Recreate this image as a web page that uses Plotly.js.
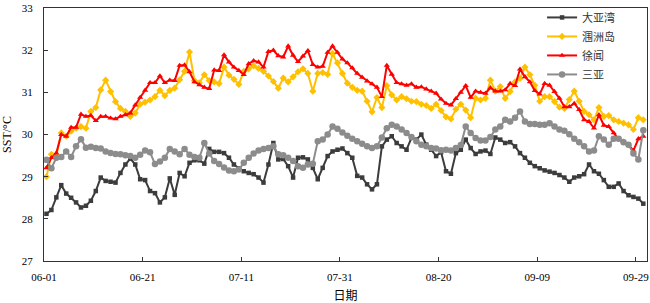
<!DOCTYPE html>
<html>
<head>
<meta charset="utf-8">
<script src="https://cdn.plot.ly/plotly-3.0.1.min.js"></script>
<style>
html,body{margin:0;padding:0;background:#fff;}
#chart{width:650px;height:303px;}
</style>
</head>
<body>
<div id="chart"></div>
<script>
// Daily series, 06-01 .. 09-30
const startDate = '2020-06-01';
const nDays = 122;

const seriesNames = ['大亚湾', '涠洲岛', '徐闻', '三亚'];

const dayawan = [
28.12,28.21,28.51,28.8,28.6,28.5,28.39,28.27,28.31,28.43,
28.66,28.98,28.9,28.88,28.86,29.09,29.29,29.43,29.29,28.94,
28.92,28.66,28.61,28.39,28.51,28.96,28.57,29.09,29.01,29.33,
29.39,29.39,29.31,29.66,29.59,29.59,29.56,29.45,29.29,29.2,
29.13,29.09,29.06,28.98,28.86,29.29,29.8,29.41,29.42,29.25,
28.98,29.45,29.46,29.41,29.21,28.94,29.21,29.49,29.6,29.64,
29.67,29.56,29.45,29.02,28.98,28.82,28.7,28.82,29.72,29.88,
29.96,29.8,29.72,29.64,29.92,29.88,30.0,29.76,29.64,29.49,
29.58,29.13,29.07,29.56,29.64,29.88,29.68,29.54,29.6,29.62,
29.54,29.93,29.88,29.8,29.82,29.72,29.56,29.45,29.33,29.25,
29.2,29.15,29.12,29.09,29.04,28.98,28.88,28.98,29.01,29.06,
29.29,29.13,29.07,28.92,28.76,28.76,28.84,28.66,28.56,28.52,
28.48,28.36
];

const weizhoudao = [
29.0,29.53,29.5,30.04,29.96,30.08,30.15,30.19,30.15,30.55,
30.64,31.06,31.29,31.02,30.78,30.62,30.55,30.43,30.51,30.72,
30.77,30.82,30.9,31.05,30.92,31.05,31.1,31.3,31.5,31.96,
31.28,31.23,31.42,31.28,31.25,31.21,31.6,31.41,31.31,31.19,
31.5,31.56,31.63,31.57,31.5,31.39,31.26,31.1,31.34,31.25,
31.37,31.49,31.56,31.45,31.03,31.45,31.47,31.43,31.92,31.7,
31.45,31.22,31.12,31.05,31.03,30.79,30.54,30.88,30.64,31.16,
30.94,30.82,30.9,30.85,30.79,30.78,30.72,30.69,30.62,30.72,
30.57,30.42,30.37,30.6,30.72,30.58,30.4,30.86,30.82,30.86,
31.29,31.03,31.14,30.86,31.02,31.25,31.33,31.6,31.42,31.17,
30.79,30.9,30.9,30.78,30.65,30.62,30.83,31.03,30.79,30.55,
30.47,30.35,30.64,30.43,30.45,30.35,30.31,30.27,30.23,30.12,
30.4,30.35
];

const xuwen = [
29.21,29.45,29.56,30.0,29.96,30.17,30.17,30.48,30.43,30.45,
30.33,30.43,30.43,30.39,30.37,30.43,30.47,30.51,30.7,30.88,
31.05,31.23,31.23,31.39,31.23,31.29,31.28,31.64,31.65,31.49,
31.25,31.18,31.12,31.09,31.53,31.52,31.89,31.72,31.6,31.52,
31.42,31.68,31.75,31.72,31.6,31.97,32.0,31.87,31.84,32.1,
31.88,31.73,31.86,31.99,31.66,31.6,31.62,31.95,32.1,31.95,
31.79,31.7,31.58,31.45,31.36,31.27,31.2,31.12,30.9,31.64,
31.43,31.23,31.2,31.17,31.2,31.12,31.13,31.08,31.03,30.98,
30.84,30.74,30.7,30.85,31.0,31.16,30.88,31.03,31.0,30.98,
31.11,31.03,31.03,31.06,31.21,31.16,31.55,31.37,31.25,31.04,
30.96,31.21,31.17,31.02,30.86,30.66,30.66,30.74,30.59,30.35,
30.31,30.15,30.47,30.22,30.19,30.04,29.88,29.84,29.76,29.62,
29.9,29.96
];

const sanya = [
29.4,29.2,29.45,29.47,29.6,29.47,29.72,29.89,29.69,29.71,
29.68,29.67,29.6,29.56,29.54,29.53,29.51,29.49,29.45,29.52,
29.62,29.58,29.3,29.36,29.45,29.66,29.6,29.53,29.66,29.52,
29.47,29.45,29.8,29.55,29.37,29.3,29.22,29.15,29.13,29.17,
29.33,29.45,29.55,29.62,29.66,29.68,29.72,29.53,29.51,29.45,
29.37,29.25,29.21,29.29,29.31,29.84,29.88,30.0,30.19,30.14,
30.05,29.97,29.9,29.84,29.78,29.72,29.68,29.72,29.93,30.15,
30.23,30.19,30.12,30.04,29.94,29.84,29.76,29.72,29.68,29.67,
29.63,29.64,29.62,29.68,29.75,30.19,30.04,29.92,29.86,29.86,
29.94,30.12,30.19,30.35,30.31,30.4,30.55,30.31,30.25,30.25,
30.23,30.23,30.27,30.19,30.12,30.09,30.01,29.9,29.82,29.72,
29.6,29.62,29.96,29.88,29.76,29.9,29.9,29.82,29.76,29.55,
29.41,30.1
];

const tickDates = ['2020-06-01','2020-06-21','2020-07-11','2020-07-31','2020-08-20','2020-09-09','2020-09-29'];
const tickLabels = ['06-01','06-21','07-11','07-31','08-20','09-09','09-29'];
const yTicks = [27,28,29,30,31,32,33];

// build daily date strings (noon of each day)
const dates = [];
{
  const d0 = new Date(startDate + 'T00:00:00Z');
  for (let i = 0; i < nDays; i++) {
    const d = new Date(d0.getTime() + i * 86400000);
    dates.push(d.toISOString().slice(0,10) + ' 12:00');
  }
}

const colors = ['#3c3c3c', '#FFC000', '#FF0000', '#8c8c8c'];
const symbols = ['square', 'diamond', 'triangle-up', 'circle'];
const msizes = [4.5, 5.5, 5.5, 6.5];
const values = [dayawan, weizhoudao, xuwen, sanya];

const traces = values.map((v, k) => ({
  x: dates, y: v, name: seriesNames[k],
  type: 'scatter', mode: 'lines+markers',
  line: {color: colors[k], width: 2},
  marker: {color: colors[k], symbol: symbols[k], size: msizes[k]}
}));

const serif = 'Liberation Serif, Times New Roman, serif';
const cjk = 'Noto Sans CJK SC, sans-serif';

const layout = {
  width: 650, height: 303,
  margin: {l: 44, r: 3, t: 6, b: 42},
  paper_bgcolor: '#fff', plot_bgcolor: '#fff',
  showlegend: true,
  legend: {
    x: 0.826, y: 1.02, xanchor: 'left', yanchor: 'top',
    font: {family: cjk, size: 11, color: '#333'},
    bgcolor: 'rgba(255,255,255,0)', borderwidth: 0,
    tracegroupgap: 0, itemwidth: 30
  },
  xaxis: {
    type: 'date',
    range: ['2020-06-01', '2020-10-01 06:00'],
    tickvals: tickDates, ticktext: tickLabels,
    ticks: 'inside', ticklen: 4, tickcolor: '#333',
    showline: true, linecolor: '#333', linewidth: 1, mirror: true,
    showgrid: false, zeroline: false,
    tickfont: {family: serif, size: 11, color: '#000'},
    ticklabelstandoff: 6,
    title: {text: '日期', font: {family: cjk, size: 12, color: '#000'}, standoff: 9}
  },
  yaxis: {
    range: [27, 33.003],
    tickvals: yTicks,
    ticks: 'inside', ticklen: 4, tickcolor: '#333',
    showline: true, linecolor: '#333', linewidth: 1, mirror: true,
    showgrid: false, zeroline: false,
    tickfont: {family: serif, size: 11, color: '#000'},
    ticklabelstandoff: 8,
    title: {text: 'SST/°C', font: {family: serif, size: 12, color: '#000'}, standoff: 8}
  }
};

Plotly.newPlot('chart', traces, layout, {displayModeBar: false, staticPlot: true});
</script>
</body>
</html>
